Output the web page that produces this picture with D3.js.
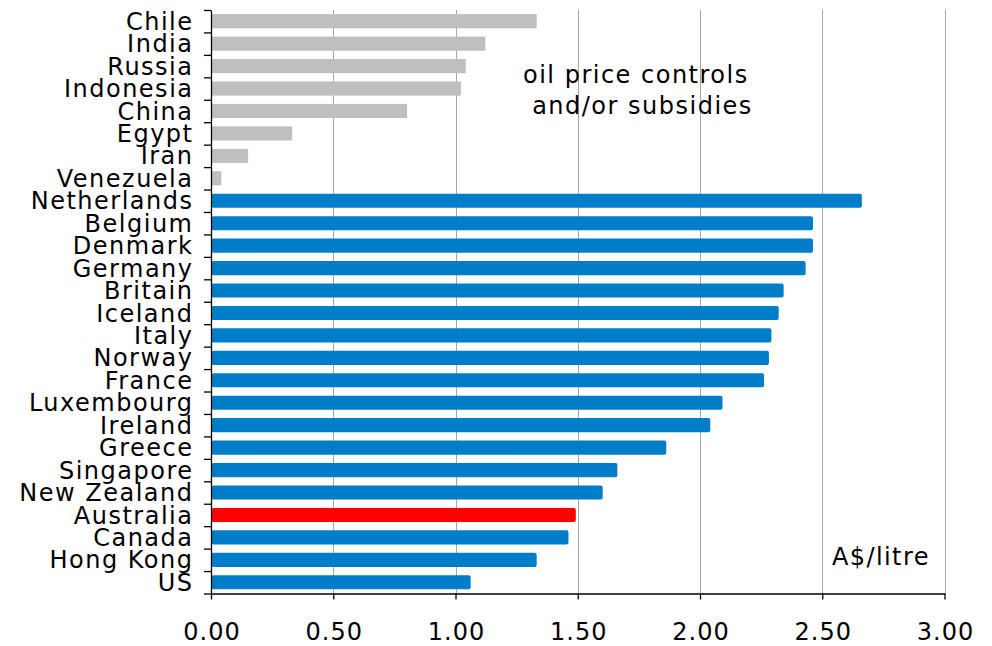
<!DOCTYPE html>
<html>
<head>
<meta charset="utf-8">
<script src="https://cdn.jsdelivr.net/npm/d3@7"></script>
<style>
  html, body { margin: 0; padding: 0; background: #fff; }
  svg { display: block; }
  text { font-family: "DejaVu Sans", Verdana, sans-serif; fill: #000; }
</style>
</head>
<body>
<svg id="chart" width="992" height="646"></svg>
<script>
// ---- data (A$/litre) ----
const countries = ["Chile","India","Russia","Indonesia","China","Egypt","Iran","Venezuela",
  "Netherlands","Belgium","Denmark","Germany","Britain","Iceland","Italy","Norway","France",
  "Luxembourg","Ireland","Greece","Singapore","New Zealand","Australia","Canada","Hong Kong","US"];
const prices = [1.33,1.12,1.04,1.02,0.80,0.33,0.15,0.04,
  2.66,2.46,2.46,2.43,2.34,2.32,2.29,2.28,2.26,
  2.09,2.04,1.86,1.66,1.60,1.49,1.46,1.33,1.06];
const groups = ["controlled","controlled","controlled","controlled","controlled","controlled","controlled","controlled",
  "market","market","market","market","market","market","market","market","market",
  "market","market","market","market","market","highlight","market","market","market"];
const xTicks = [0, 0.5, 1, 1.5, 2, 2.5, 3];
const annotationLines = ["oil price controls", " and/or subsidies"];
const unitLabel = "A$/litre";

(function () {
const data = countries.map((c, i) => ({ country: c, value: prices[i], group: groups[i] }));
const colors = { controlled: "#BFBFBF", market: "#007DC8", highlight: "#FF0000" };

const svg = d3.select("#chart");
const mLeft = 211, mRight = 944.5, mTop = 10, mBottom = 593.5;

const x = d3.scaleLinear().domain([0, 3]).range([mLeft, mRight]);
const y = d3.scaleBand().domain(countries).range([mTop, mBottom]).paddingInner(0.37).paddingOuter(0.185);
const yIdx = d3.scaleLinear().domain([0, countries.length]).range([mTop, mBottom]);

// gridlines
svg.append("g").selectAll("line").data(xTicks.filter(d => d > 0)).join("line")
  .attr("x1", d => Math.round(x(d)) + 0.5).attr("x2", d => Math.round(x(d)) + 0.5)
  .attr("y1", mTop).attr("y2", mBottom)
  .attr("stroke", "#A6A6A6").attr("stroke-width", 1);

// bars
svg.append("g").selectAll("rect").data(data).join("rect")
  .attr("x", x(0) + 0.5)
  .attr("y", d => y(d.country))
  .attr("width", d => x(d.value) - x(0))
  .attr("height", y.bandwidth())
  .attr("rx", d => d.group === "controlled" ? 0 : 2)
  .attr("fill", d => colors[d.group]);

// x axis
const xAxis = svg.append("g")
  .attr("transform", `translate(0,${mBottom})`)
  .call(d3.axisBottom(x).tickValues(xTicks).tickFormat(d3.format(".2f")).tickSize(6).tickPadding(24).tickSizeOuter(0));
xAxis.select(".domain").attr("stroke", "#000").attr("stroke-width", 1.3);
xAxis.selectAll(".tick line").attr("stroke", "#000").attr("stroke-width", 1.3);
xAxis.selectAll(".tick text")
  .style("font-family", '"DejaVu Sans", Verdana, sans-serif')
  .style("font-size", "24px").style("letter-spacing", "1px")
  .attr("dy", "0.68em").attr("dx", "0.5px").attr("fill", "#000");

// y axis: boundary ticks
const yAxis = svg.append("g")
  .attr("transform", `translate(${mLeft},0)`)
  .call(d3.axisLeft(yIdx).tickValues(d3.range(countries.length + 1)).tickFormat("").tickSize(7).tickSizeOuter(0));
yAxis.select(".domain").attr("stroke", "#000").attr("stroke-width", 1.3);
yAxis.selectAll(".tick line").attr("stroke", "#000").attr("stroke-width", 1.3);

// category labels
svg.append("g").selectAll("text").data(data).join("text")
  .attr("x", 193.5)
  .attr("y", d => y(d.country) + y.bandwidth() / 2 + 8.6)
  .attr("text-anchor", "end")
  .style("font-size", "24px").style("letter-spacing", "1.5px")
  .text(d => d.country);

// annotation
svg.append("g").selectAll("text").data(annotationLines).join("text")
  .attr("x", 523)
  .attr("y", (d, i) => 83 + i * 31)
  .attr("xml:space", "preserve")
  .style("white-space", "pre")
  .style("font-size", "24px").style("letter-spacing", "1.5px")
  .text(d => d);

svg.append("text")
  .attr("x", 832).attr("y", 565)
  .style("font-size", "24px").style("letter-spacing", "1.4px")
  .text(unitLabel);
})();
</script>
</body>
</html>
